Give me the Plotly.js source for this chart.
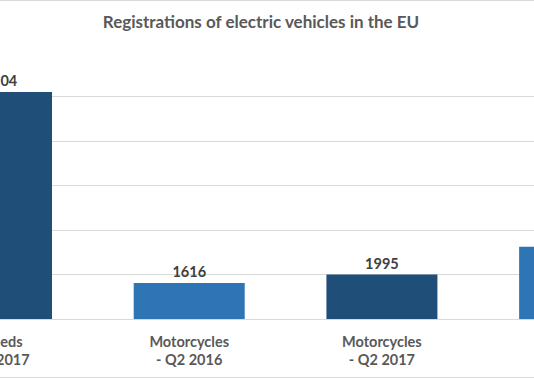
<!DOCTYPE html>
<html>
<head>
<meta charset="utf-8">
<script src="https://cdn.plot.ly/plotly-3.0.1.min.js"></script>
<style>
  html, body { margin: 0; padding: 0; background: #fff; }
  #frame { position: relative; width: 534px; height: 378px; overflow: hidden; background: #fff; }
  #chart { position: absolute; left: -200px; top: 0; width: 934px; height: 378px; }
  #frame::after { content: ""; position: absolute; left: 0; top: 0; width: 534px; height: 376px;
    border-top: 1px solid #d9d9d9; border-bottom: 1px solid #d9d9d9; pointer-events: none; }
</style>
</head>
<body>
<div id="frame"><div id="chart"></div></div>
<script>
// Data read from the (cropped) reference chart
const categories = [
  "Mopeds<br>- Q2 2017",
  "Motorcycles<br>- Q2 2016",
  "Motorcycles<br>- Q2 2017",
  "Tricycles<br>- Q2 2016"
];
const registrations = [10204, 1616, 1995, 3250];
const periods = ["Q2 2017", "Q2 2016", "Q2 2017", "Q2 2016"];
const yTicks = [0, 2000, 4000, 6000, 8000, 10000, 12000];

const periodColour = { "Q2 2016": "#2E75B6", "Q2 2017": "#1F4E79" };
const FONT = "Lato, 'Open Sans', sans-serif";

const trace = {
  type: "bar",
  x: categories,
  y: registrations,
  marker: { color: periods.map(p => periodColour[p]) },
  text: registrations.map(String),
  textposition: "outside",
  cliponaxis: false,
  textfont: { family: FONT, size: 14.5, color: "#404040", weight: "bold" },
  hoverinfo: "skip"
};

const layout = {
  width: 934,
  height: 378,
  margin: { l: 0, r: 0, t: 52, b: 59 },
  paper_bgcolor: "#ffffff",
  plot_bgcolor: "#ffffff",
  showlegend: false,
  bargap: 0.424,
  title: {
    text: "Registrations of electric vehicles in the EU",
    font: { family: FONT, size: 17, color: "#595959", weight: "bold" },
    x: 0.4936, xanchor: "center", xref: "paper",
    y: 1 - 16 / 378, yanchor: "top", yref: "container"
  },
  xaxis: {
    type: "category",
    range: [-1.0197, 3.827],
    showgrid: false,
    showline: false,
    zeroline: false,
    ticks: "",
    ticklabelstandoff: 12,
    tickfont: { family: FONT, size: 14.5, color: "#595959", weight: "bold" },
    fixedrange: true
  },
  yaxis: {
    range: [0, 12000],
    tickvals: yTicks,
    showticklabels: false,
    showgrid: true,
    gridcolor: "#d9d9d9",
    gridwidth: 1,
    zeroline: true,
    zerolinecolor: "#d9d9d9",
    zerolinewidth: 1,
    showline: false,
    ticks: "",
    fixedrange: true
  }
};

Plotly.newPlot("chart", [trace], layout, { staticPlot: true, displayModeBar: false });
</script>
</body>
</html>
